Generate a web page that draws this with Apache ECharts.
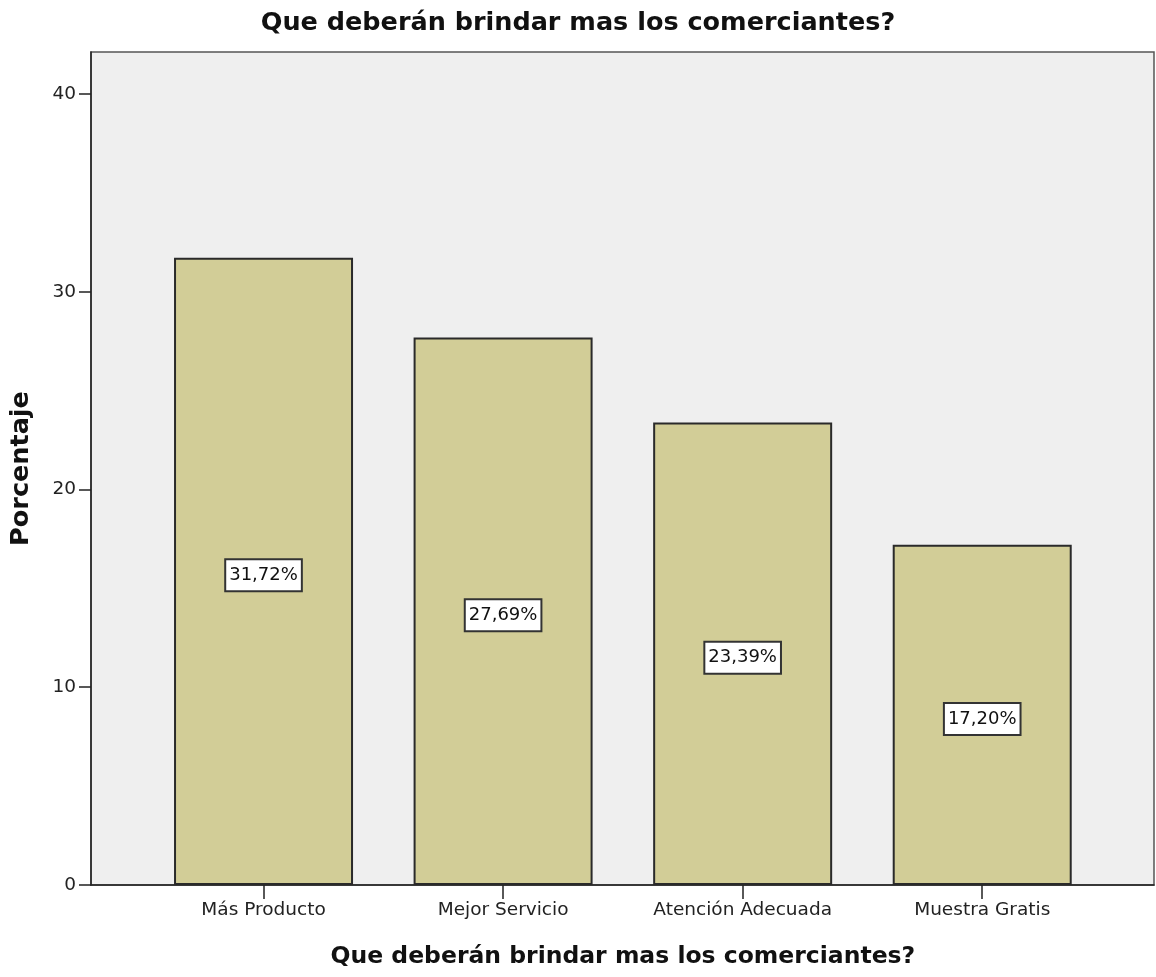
<!DOCTYPE html>
<html>
<head>
<meta charset="utf-8">
<script src="https://cdn.jsdelivr.net/npm/echarts@6/dist/echarts.min.js"></script>
<style>html,body{margin:0;padding:0;background:#fff}#c{width:1156px;height:977px}</style>
</head>
<body>
<div id="c"></div>
<script>
const chartTitle = 'Que deberán brindar mas los comerciantes?';
const categories = ['Más Producto', 'Mejor Servicio', 'Atención Adecuada', 'Muestra Gratis'];
const percentages = [31.72, 27.69, 23.39, 17.20];
const yTicks = [0, 10, 20, 30, 40];
const yMax = 42.12;

const font = 'DejaVu Sans';
const chart = echarts.init(document.getElementById('c'));
chart.setOption({
  backgroundColor: '#ffffff',
  animation: false,
  title: {
    text: chartTitle,
    left: 573, top: 5, textAlign: 'center',
    textStyle: { fontFamily: font, fontWeight: 'bold', fontSize: 25.5, color: '#111' }
  },
  grid: [
    { left: 91, right: 2, top: 52, bottom: 92, show: true, backgroundColor: '#efefef', borderColor: '#555', borderWidth: 1.5 },
    { left: 143.75, right: 54, top: 52, bottom: 92 }
  ],
  xAxis: [
    { gridIndex: 0, type: 'category', data: categories, axisLine: { show: true, lineStyle: { color: '#222', width: 1.5 } },
      axisTick: { show: false }, axisLabel: { show: false } },
    { gridIndex: 1, type: 'category', data: categories,
      name: chartTitle, nameLocation: 'middle', nameGap: 60,
      nameTextStyle: { fontFamily: font, fontWeight: 'bold', fontSize: 23.5, color: '#111' },
      axisLine: { show: false },
      axisTick: { show: true, alignWithLabel: true, length: 14, lineStyle: { color: '#222', width: 1.5 } },
      axisLabel: { fontFamily: font, fontSize: 18.5, color: '#222', margin: 16 } }
  ],
  yAxis: [
    { gridIndex: 0, type: 'value', min: 0, max: yMax,
      name: 'Porcentaje', nameLocation: 'middle', nameGap: 57,
      nameTextStyle: { fontFamily: font, fontWeight: 'bold', fontSize: 25.5, color: '#111' },
      axisLine: { show: true, lineStyle: { color: '#222', width: 1.5 } },
      axisTick: { show: true, length: 12, customValues: yTicks, lineStyle: { color: '#222', width: 1.5 } },
      axisLabel: { fontFamily: font, fontSize: 18.5, color: '#222', margin: 15, customValues: yTicks },
      splitLine: { show: false } },
    { gridIndex: 1, type: 'value', min: 0, max: yMax, show: false, splitLine: { show: false } }
  ],
  series: [{
    type: 'bar', xAxisIndex: 1, yAxisIndex: 1,
    data: percentages,
    barWidth: 179,
    itemStyle: { color: '#d2cd97', borderColor: '#2a2a2a', borderWidth: 2 },
    label: {
      show: true, position: 'inside', offset: [0, 4],
      formatter: p => p.value.toFixed(2).replace('.', ',') + '%',
      fontFamily: font, fontSize: 18, color: '#111',
      backgroundColor: '#ffffff', borderColor: '#333', borderWidth: 2,
      padding: [7, 3, 5, 3]
    }
  }]
});
</script>
</body>
</html>
